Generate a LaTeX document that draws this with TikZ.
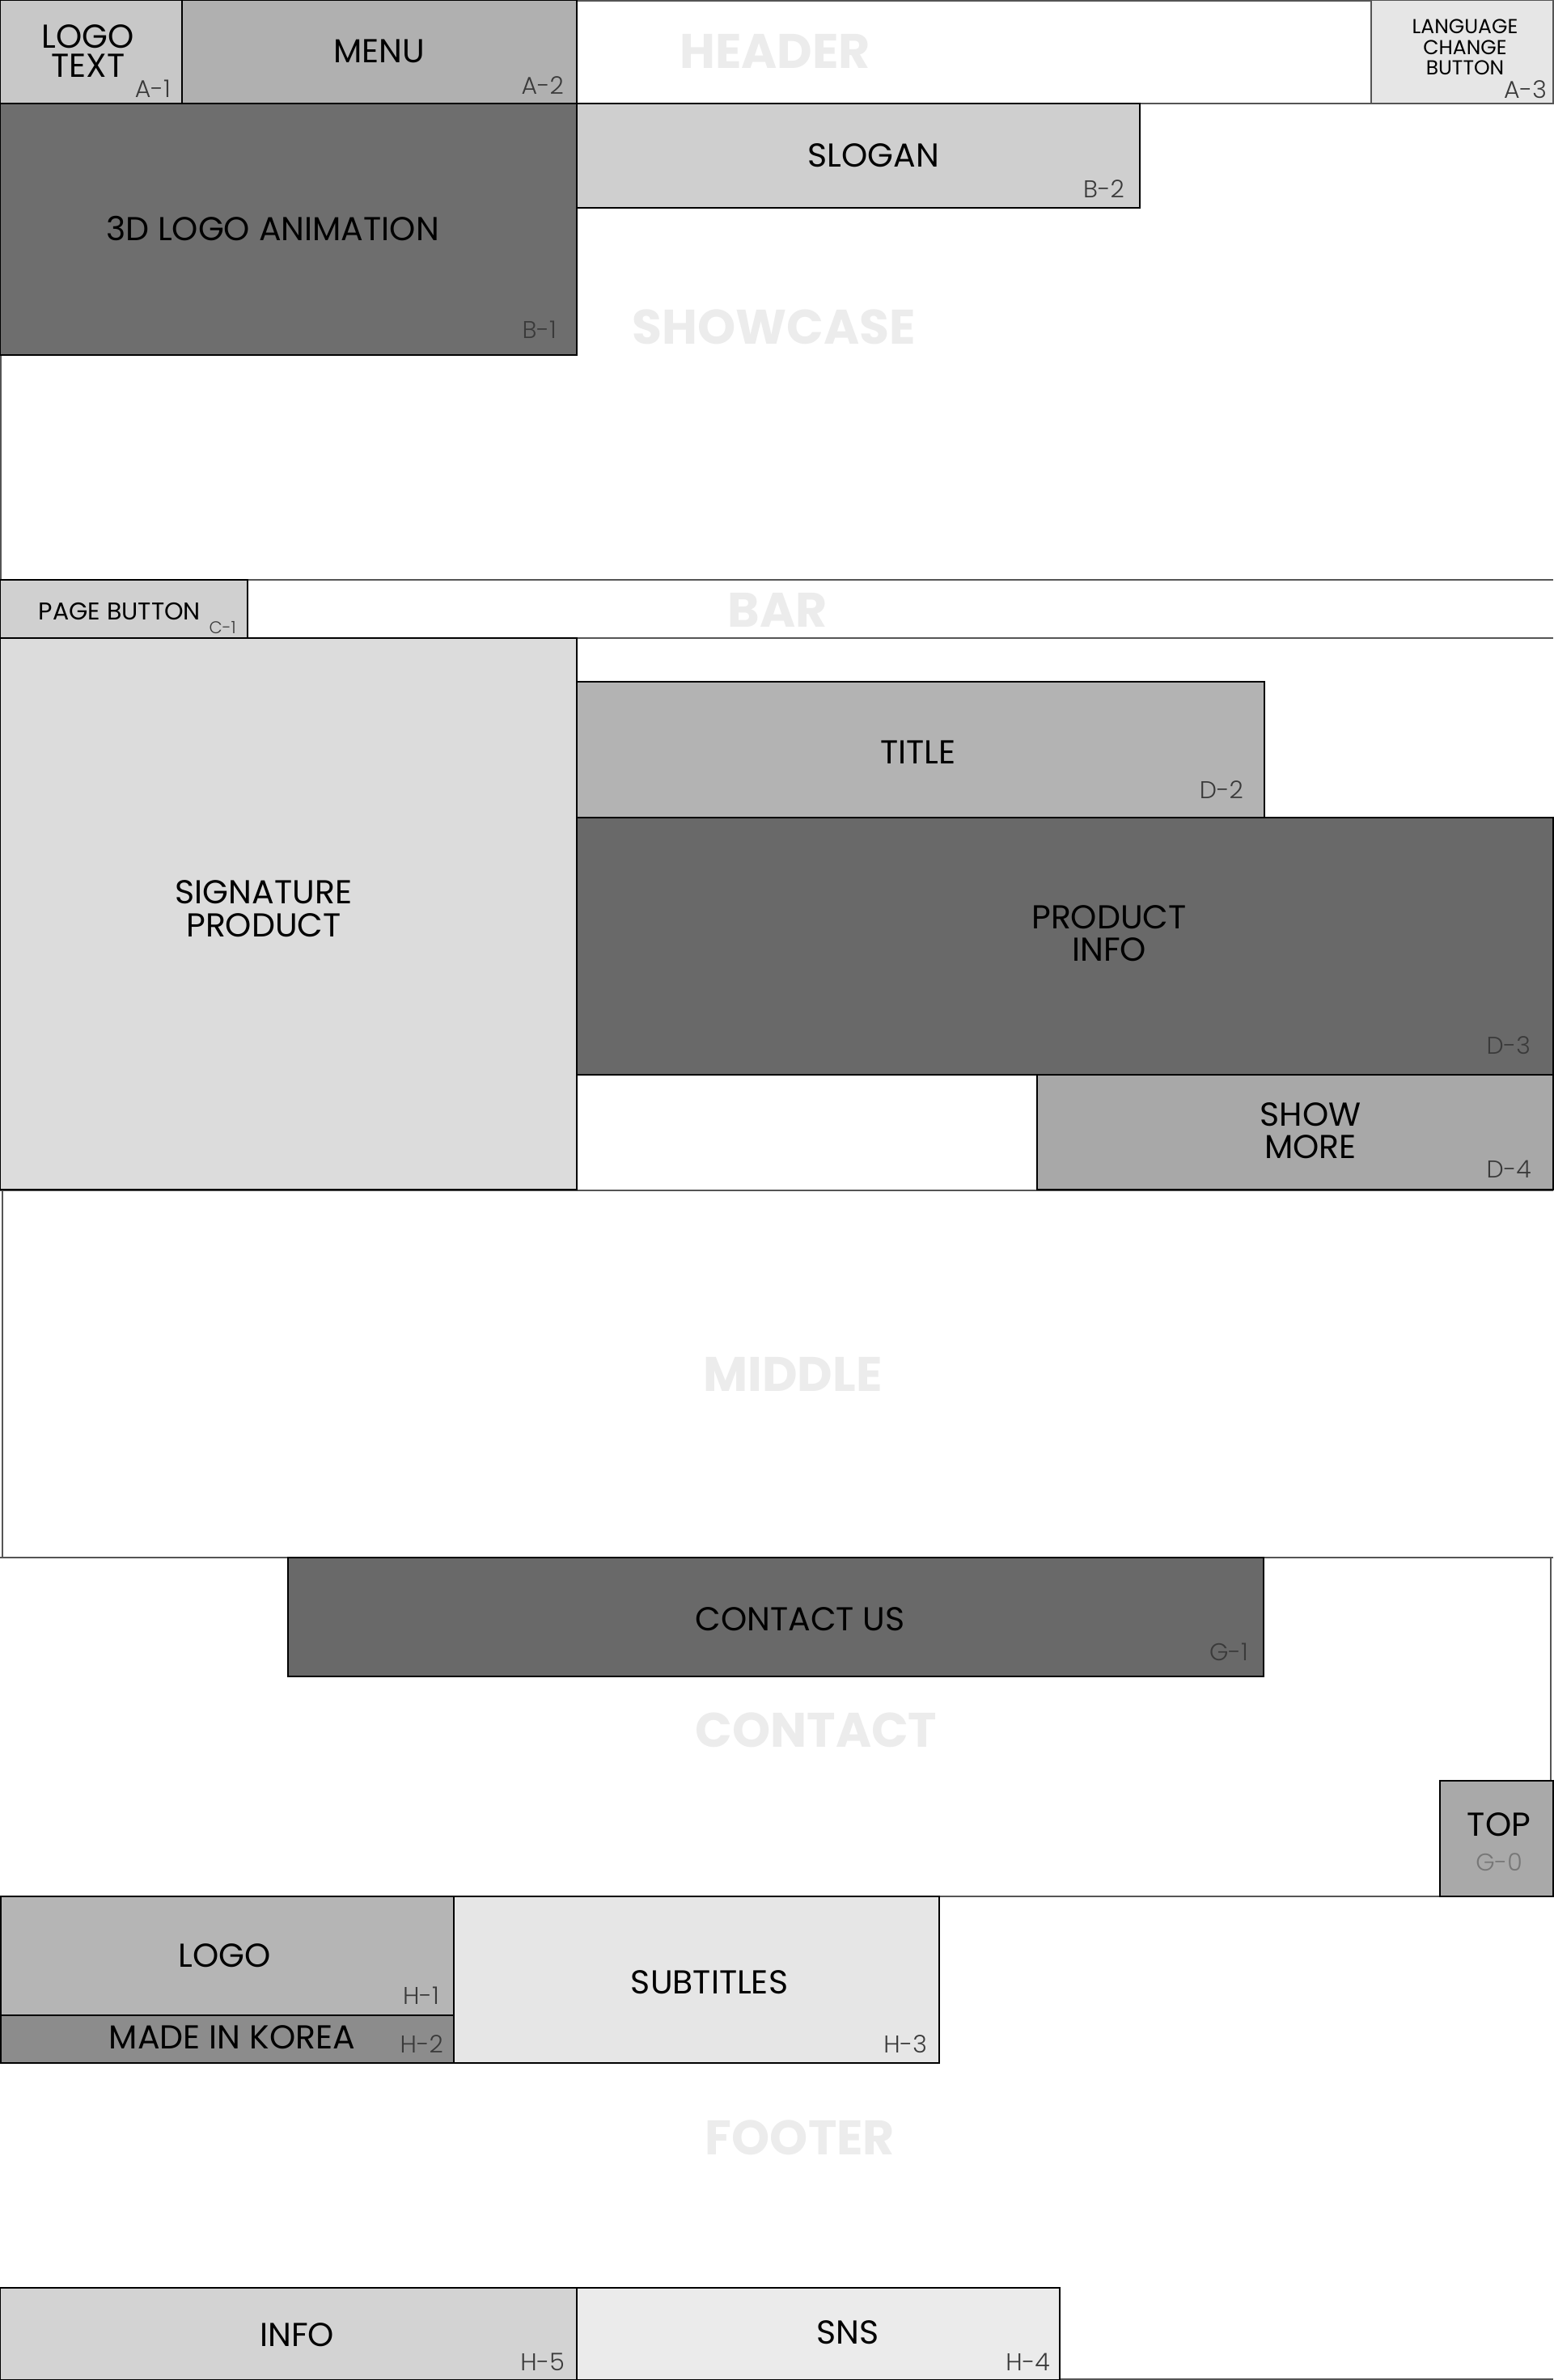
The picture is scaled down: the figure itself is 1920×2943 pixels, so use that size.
\documentclass[tikz,border=0pt]{standalone}
\usepackage{fontspec}
\setmainfont{Poppins}
\newfontfamily\lightfont{Poppins Light}
\usetikzlibrary{fit}

\definecolor{framegray}{HTML}{555555}
\definecolor{wmgray}{HTML}{ECECEC}
\definecolor{tagcol}{HTML}{3A3A3A}
\definecolor{tagsoft}{HTML}{777777}
\definecolor{fLogoText}{HTML}{C8C8C8}
\definecolor{fMenu}{HTML}{B0B0B0}
\definecolor{fLang}{HTML}{E6E6E6}
\definecolor{fAnim}{HTML}{6E6E6E}
\definecolor{fSlogan}{HTML}{CFCFCF}
\definecolor{fPage}{HTML}{D0D0D0}
\definecolor{fSig}{HTML}{DCDCDC}
\definecolor{fTitle}{HTML}{B3B3B3}
\definecolor{fInfo}{HTML}{696969}
\definecolor{fMore}{HTML}{A8A8A8}
\definecolor{fContact}{HTML}{696969}
\definecolor{fTop}{HTML}{A9A9A9}
\definecolor{fLogo}{HTML}{B5B5B5}
\definecolor{fKorea}{HTML}{8C8C8C}
\definecolor{fSub}{HTML}{E6E6E6}
\definecolor{fFInfo}{HTML}{D3D3D3}
\definecolor{fSns}{HTML}{EBEBEB}

\begin{document}
\begin{tikzpicture}[x=1pt,y=-1pt,
  frame/.style={draw=framegray, line width=2pt},
  blk/.style={draw=black, line width=1.6pt, inner sep=0pt, outer sep=0pt},
  main/.style={font=\fontsize{41}{40}\selectfont, text=black, inner sep=0pt, anchor=base, align=center},
  small/.style={font=\fontsize{25}{25.5}\selectfont, text=black, inner sep=0pt, anchor=base, align=center},
  tag/.style={font=\lightfont\fontsize{30}{30}\selectfont, text=tagcol, inner sep=0pt, anchor=base east},
  wmark/.style={font=\bfseries\fontsize{60}{60}\selectfont, text=wmgray, inner sep=0pt, anchor=base}]

\useasboundingbox (0,0) rectangle (1920,2943);
\fill[white] (0,0) rectangle (1920,2943);

% section names, faint in the background
\node[wmark] (wHeader)   at (958,85)   {HEADER};
\node[wmark] (wShowcase) at (957,425)  {SHOWCASE};
\node[wmark] (wBar)      at (961,775)  {BAR};
\node[wmark] (wMiddle)   at (980,1720) {MIDDLE};
\node[wmark] (wContact)  at (1009,2160){CONTACT};
\node[wmark] (wFooter)   at (989,2664) {FOOTER};

% section frames
\draw[frame] (0,1) -- (1920,1);
\draw[frame] (0,128) -- (1920,128);
\draw[frame] (0,717) -- (1920,717);
\draw[frame] (0,789) -- (1920,789);
\draw[frame] (0,1472) -- (1920,1472);
\draw[frame] (0,1926) -- (1920,1926);
\draw[frame] (0,2345) -- (1920,2345);
\draw[frame] (0,2942) -- (1920,2942);
\draw[frame] (1,128) -- (1,717);
\draw[frame] (3,1472) -- (3,1926);
\draw[frame] (1917,1926) -- (1917,2202);

% header
\node[blk, fill=fLogoText, fit={(0,0) (225,128)}] (logotext) {};
\node[blk, fill=fMenu, fit={(225,0) (713,128)}] (menu) {};
\node[blk, draw=framegray, fill=fLang, fit={(1695,0) (1920,128)}] (lang) {};

% showcase
\node[blk, fill=fAnim, fit={(0,128) (713,439)}] (anim) {};
\node[blk, fill=fSlogan, fit={(713,128) (1409,257)}] (slogan) {};

% bar
\node[blk, fill=fPage, fit={(0,717) (306,789)}] (page) {};

% product area
\node[blk, fill=fSig, fit={(0,789) (713,1471)}] (sig) {};
\node[blk, fill=fTitle, fit={(713,843) (1563,1011)}] (title) {};
\node[blk, fill=fInfo, fit={(713,1011) (1920,1329)}] (pinfo) {};
\node[blk, fill=fMore, fit={(1282,1329) (1920,1471)}] (more) {};

% contact
\node[blk, fill=fContact, fit={(356,1926) (1562,2073)}] (contact) {};
\node[blk, fill=fTop, fit={(1780,2202) (1920,2345)}] (top) {};

% footer
\node[blk, fill=fLogo, fit={(1,2345) (561,2492)}] (flogo) {};
\node[blk, fill=fKorea, fit={(1,2492) (561,2551)}] (korea) {};
\node[blk, fill=fSub, fit={(561,2345) (1161,2551)}] (sub) {};
\node[blk, fill=fFInfo, fit={(0,2829) (713,2943)}] (finfo) {};
\node[blk, fill=fSns, fit={(713,2829) (1310,2943)}] (sns) {};

% block names (multi-line names sit on the baseline of their last line)
\node[main, font=\fontsize{41}{36}\selectfont] (tLogoText) at (109,96) {LOGO\\TEXT};
\node[main] (tMenu) at (469,78) {MENU};
\node[small] (tLang) at (1811,93) {LANGUAGE\\CHANGE\\BUTTON};
\node[main] (tAnim) at (337,298) {3D LOGO ANIMATION};
\node[main] (tSlogan) at (1080,207) {SLOGAN};
\node[main, font=\fontsize{30}{30}\selectfont] (tPage) at (148,766) {PAGE BUTTON};
\node[main, font=\fontsize{41}{41}\selectfont] (tSig) at (326,1158) {SIGNATURE\\PRODUCT};
\node[main] (tTitle) at (1135,944) {TITLE};
\node[main] (tPinfo) at (1371,1188) {PRODUCT\\INFO};
\node[main] (tMore) at (1620,1432) {SHOW\\MORE};
\node[main] (tContact) at (989,2016) {CONTACT US};
\node[main] (tTop) at (1853,2270) {TOP};
\node[main] (tLogo) at (278,2432) {LOGO};
\node[main] (tKorea) at (287,2533) {MADE IN KOREA};
\node[main] (tSub) at (877,2465) {SUBTITLES};
\node[main] (tFInfo) at (367,2901) {INFO};
\node[main] (tSns) at (1048,2898) {SNS};

% block codes
\node[tag] (cA1) at (211,121) {A-1};
\node[tag] (cA2) at (697,117) {A-2};
\node[tag] (cA3) at (1912,122) {A-3};
\node[tag] (cB1) at (688,418) {B-1};
\node[tag] (cB2) at (1390,245) {B-2};
\node[tag, font=\lightfont\fontsize{21}{21}\selectfont] (cC1) at (292,783) {C-1};
\node[tag] (cD2) at (1537,987) {D-2};
\node[tag] (cD3) at (1892,1303) {D-3};
\node[tag] (cD4) at (1893,1456) {D-4};
\node[tag] (cG1) at (1543,2053) {G-1};
\node[tag, anchor=base, text=tagsoft] (cG0) at (1853,2313) {G-0};
\node[tag] (cH1) at (543,2478) {H-1};
\node[tag] (cH2) at (548,2538) {H-2};
\node[tag] (cH3) at (1146,2538) {H-3};
\node[tag] (cH5) at (698,2931) {H-5};
\node[tag] (cH4) at (1298,2931) {H-4};
\end{tikzpicture}
\end{document}
